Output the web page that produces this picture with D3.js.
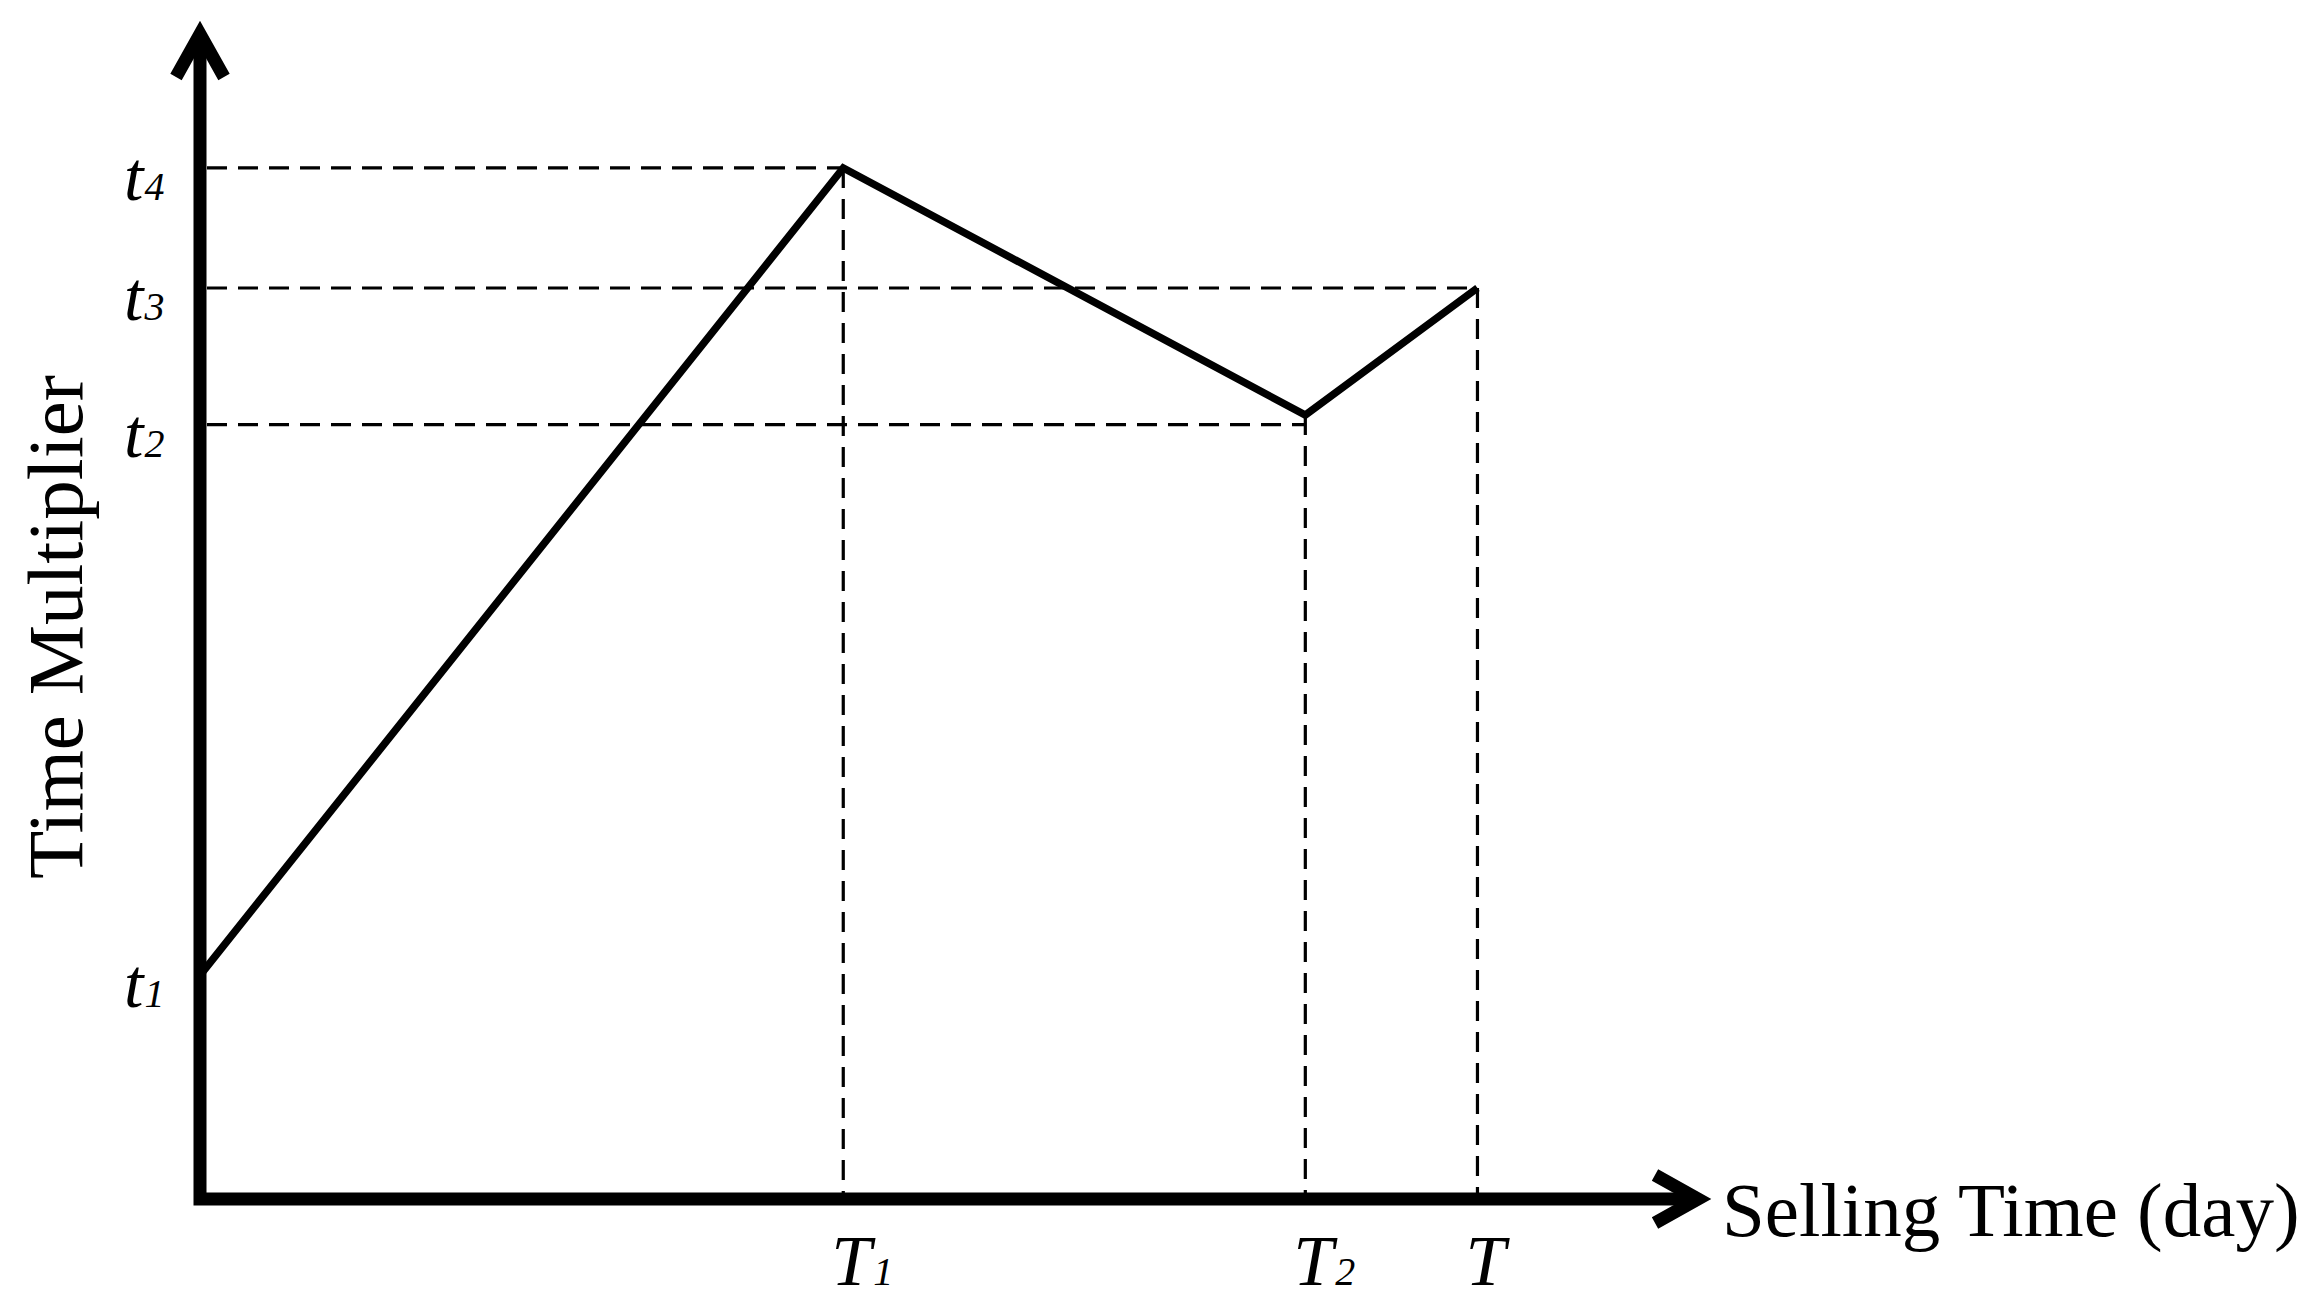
<!DOCTYPE html>
<html>
<head>
<meta charset="utf-8">
<script src="https://cdn.jsdelivr.net/npm/d3@7"></script>
<style>
  html, body { margin: 0; padding: 0; background: #fff; }
  svg { display: block; }
</style>
</head>
<body>
<script>
// ---- data ----
const xTickLabels = ["T", "T", "T"];
const xTickSubs = ["1", "2", ""];
const xTickValues = [42.6, 73.2, 84.6];
const yTickLabels = ["t", "t", "t", "t"];
const yTickSubs = ["1", "2", "3", "4"];
const yTickValues = [19.0, 65.8, 77.4, 87.6];
const seriesX = [0, 42.6, 73.2, 84.6];
const seriesY = [19.0, 87.6, 66.6, 77.4];
// horizontal guide for each y tick ends at this time (null = none)
const hGuideEnds = [null, 73.2, 84.6, 42.6];
const xTitle = "Selling Time (day)";
const yTitle = "Time Multiplier";

// ---- layout ----
const W = 2321, H = 1315;
const x = d3.scaleLinear().domain([0, 100]).range([200, 1710]);
const y = d3.scaleLinear().domain([0, 100]).range([1199, 22]);

const svg = d3.select("body").append("svg").attr("width", W).attr("height", H);
const serif = "'Liberation Serif', 'DejaVu Serif', serif";

// guides
const g = svg.append("g").attr("fill", "none").attr("stroke", "#000")
  .attr("stroke-width", 3.2).attr("stroke-dasharray", "20,11");
yTickValues.forEach((v, i) => {
  if (hGuideEnds[i] == null) return;
  g.append("line").attr("x1", x(0) + 7).attr("x2", x(hGuideEnds[i]))
    .attr("y1", y(v)).attr("y2", y(v));
});
seriesX.forEach((v, i) => {
  if (i === 0) return;
  g.append("line").attr("x1", x(v)).attr("x2", x(v))
    .attr("y1", y(seriesY[i])).attr("y2", y(0) - 6);
});

// main line
const line = d3.line().x((d, i) => x(seriesX[i])).y((d, i) => y(seriesY[i]));
svg.append("path").datum(seriesX).attr("d", line)
  .attr("fill", "none").attr("stroke", "#000").attr("stroke-width", 7.5)
  .attr("stroke-linejoin", "miter");

// axes
const ax = svg.append("g").attr("fill", "none").attr("stroke", "#000")
  .attr("stroke-width", 13).attr("stroke-linejoin", "miter");
ax.append("path").attr("d", `M${x(0)},${y(100) + 12} L${x(0)},${y(0)} L${x(100) - 12},${y(0)}`);
ax.append("path").attr("d", `M${x(0) - 24},${y(100) + 55} L${x(0)},${y(100) + 12} L${x(0) + 24},${y(100) + 55}`);
ax.append("path").attr("d", `M${x(100) - 55},${y(0) - 24} L${x(100) - 12},${y(0)} L${x(100) - 55},${y(0) + 24}`);

// y tick labels
yTickValues.forEach((v, i) => {
  const t = svg.append("text").attr("x", 124).attr("y", y(v) + 32)
    .attr("font-family", serif).attr("font-style", "italic").attr("font-size", 70).attr("fill", "#000");
  t.append("tspan").text(yTickLabels[i]);
  t.append("tspan").attr("font-size", 40).attr("dx", 1).text(yTickSubs[i]);
});

// x tick labels
xTickValues.forEach((v, i) => {
  const t = svg.append("text").attr("x", x(v) - 12).attr("y", 1285)
    .attr("font-family", serif).attr("font-style", "italic").attr("font-size", 72).attr("fill", "#000");
  t.append("tspan").text(xTickLabels[i]);
  if (xTickSubs[i]) t.append("tspan").attr("font-size", 40).attr("dx", 2).text(xTickSubs[i]);
});

// titles
svg.append("text").attr("x", 1722).attr("y", 1236)
  .attr("font-family", serif).attr("font-size", 77).attr("fill", "#000").text(xTitle);
svg.append("text").attr("transform", "translate(82,627) rotate(-90)")
  .attr("text-anchor", "middle")
  .attr("font-family", serif).attr("font-size", 79).attr("fill", "#000").text(yTitle);
</script>
</body>
</html>
